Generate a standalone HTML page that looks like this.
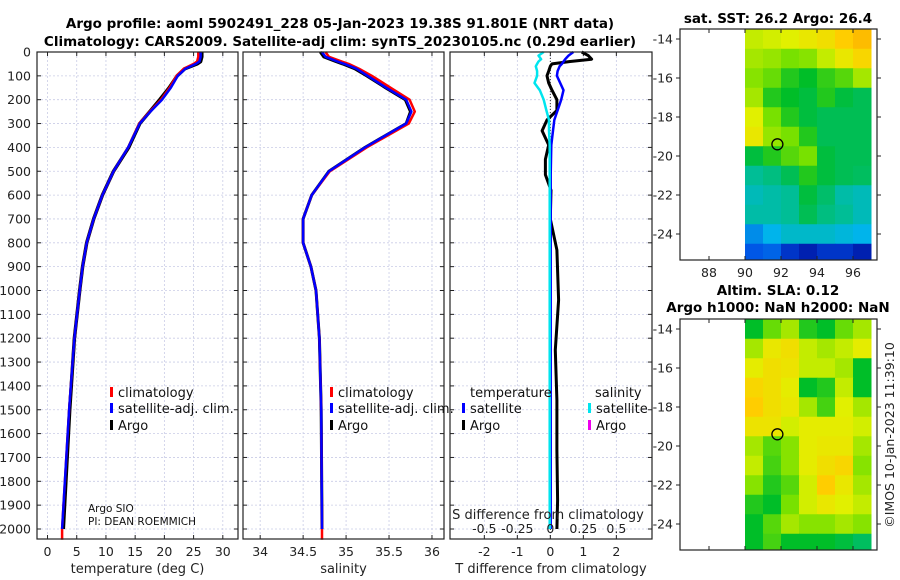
<!DOCTYPE html>
<html><head><meta charset="utf-8"><style>
html,body{margin:0;padding:0;background:#fff;}
svg{display:block;font-family:"DejaVu Sans","Liberation Sans",sans-serif;}
</style></head><body>
<svg id="fig" width="900" height="580" viewBox="0 0 900 580" xmlns="http://www.w3.org/2000/svg">
<text x="340" y="28" text-anchor="middle" font-size="13.5" font-weight="bold">Argo profile: aoml 5902491_228 05-Jan-2023 19.38S 91.801E (NRT data)</text>
<text x="340" y="46" text-anchor="middle" font-size="13.5" font-weight="bold">Climatology: CARS2009. Satellite-adj clim: synTS_20230105.nc (0.29d earlier)</text>
<text x="778" y="23" text-anchor="middle" font-size="13.5" font-weight="bold">sat. SST: 26.2 Argo: 26.4</text>
<text x="778" y="295" text-anchor="middle" font-size="13.5" font-weight="bold">Altim. SLA: 0.12</text>
<text x="778" y="312" text-anchor="middle" font-size="13.5" font-weight="bold">Argo h1000: NaN h2000: NaN</text>
<text x="0" y="0" transform="translate(894,435) rotate(-90)" text-anchor="middle" font-size="12.5" fill="#222">©IMOS 10-Jan-2023 11:39:10</text>
</svg>
<script>
// ---- profile data ----
const depths    = [0,20,40,50,70,100,150,200,250,300,400,500,600,700,800,900,1000,1200,1500,2000];
const tempArgo  = [26.4,26.4,26.2,25.6,23.5,22.2,20.8,19.2,17.5,15.8,13.9,11.3,9.4,7.9,6.7,6.0,5.5,4.6,3.8,2.7];
const tempClim  = [25.8,25.8,25.6,25.0,23.3,22.1,20.9,19.4,17.5,15.7,13.8,11.3,9.4,7.9,6.7,6.0,5.5,4.6,3.7,2.5];
const tempSat   = [26.2,26.2,26.0,25.4,23.6,22.3,21.1,19.6,17.6,15.8,13.8,11.3,9.4,7.9,6.7,6.0,5.5,4.6,3.7,2.5];
const salClim   = [34.76,34.80,34.95,35.03,35.15,35.30,35.52,35.74,35.80,35.73,35.24,34.81,34.60,34.50,34.50,34.59,34.65,34.69,34.71,34.72];
const salSat    = [34.72,34.76,34.90,34.98,35.12,35.25,35.47,35.70,35.76,35.70,35.22,34.80,34.60,34.50,34.50,34.59,34.65,34.69,34.71,34.72];
const salArgo   = [34.70,34.74,34.88,34.96,35.10,35.24,35.46,35.69,35.75,35.70,35.22,34.80,34.60,34.50,34.50,34.59,34.65,34.69,34.71,34.72];
const dDepths   = [0,15,30,40,50,60,80,100,130,160,200,245,285,330,390,450,515,580,700,830,1040,1250,1460,1670,1880,2000];
const tDiffSat  = [0.70,0.55,0.45,0.40,0.35,0.28,0.22,0.20,0.30,0.40,0.33,0.22,0.12,0.08,0.03,0.02,0.01,0.01,0.01,0.01,0.01,0.01,0.01,0.01,0.01,0.01];
const tDiffArgo = [0.95,1.15,1.25,0.60,0.05,0.00,-0.05,-0.10,-0.05,0.05,0.20,0.20,-0.10,-0.25,-0.05,-0.15,-0.15,0.02,0.00,0.20,0.25,0.15,0.20,0.20,0.22,0.20];
const sDiffSat  = [-0.05,-0.09,-0.07,-0.09,-0.10,-0.11,-0.10,-0.10,-0.12,-0.08,-0.05,-0.03,-0.01,-0.01,-0.005,-0.005,-0.005,-0.005,-0.005,-0.005,-0.005,-0.005,-0.005,-0.005,-0.005,-0.005];
const depthTicks = [0,100,200,300,400,500,600,700,800,900,1000,1100,1200,1300,1400,1500,1600,1700,1800,1900,2000];
const tempTicks = [0,5,10,15,20,25,30];
const salTicks  = [34,34.5,35,35.5,36];
const tdTicks   = [-2,-1,0,1,2];
const sdTicks   = [-0.5,-0.25,0,0.25,0.5];
// ---- map data (colormap index 0..1), rows lat -14..-25, cols lon 90.5..96.5 ----
const mapLons = [90.5,91.5,92.5,93.5,94.5,95.5,96.5];
const mapLats = [-14,-15,-16,-17,-18,-19,-20,-21,-22,-23,-24,-25];
const sstGrid = [
[0.62,0.63,0.64,0.66,0.68,0.72,0.76],
[0.60,0.59,0.57,0.58,0.62,0.66,0.70],
[0.58,0.56,0.52,0.50,0.53,0.55,0.60],
[0.60,0.52,0.50,0.48,0.52,0.48,0.46],
[0.64,0.57,0.52,0.48,0.46,0.46,0.46],
[0.66,0.59,0.57,0.52,0.46,0.46,0.46],
[0.48,0.52,0.55,0.57,0.48,0.46,0.46],
[0.40,0.42,0.46,0.52,0.48,0.46,0.45],
[0.36,0.38,0.40,0.48,0.44,0.38,0.36],
[0.38,0.38,0.40,0.46,0.42,0.40,0.36],
[0.24,0.30,0.34,0.34,0.34,0.32,0.30],
[0.16,0.18,0.10,0.06,0.10,0.10,0.06]];
const slaGrid = [
[0.50,0.56,0.60,0.52,0.50,0.56,0.60],
[0.60,0.66,0.68,0.62,0.60,0.62,0.65],
[0.65,0.68,0.67,0.62,0.62,0.60,0.50],
[0.70,0.68,0.65,0.50,0.52,0.62,0.50],
[0.72,0.68,0.66,0.60,0.54,0.64,0.60],
[0.67,0.67,0.63,0.65,0.65,0.65,0.63],
[0.60,0.55,0.58,0.65,0.66,0.66,0.60],
[0.62,0.54,0.58,0.65,0.68,0.70,0.58],
[0.58,0.52,0.55,0.63,0.72,0.66,0.60],
[0.52,0.50,0.57,0.63,0.66,0.64,0.62],
[0.50,0.55,0.60,0.58,0.58,0.60,0.58],
[0.50,0.54,0.50,0.50,0.50,0.48,0.45]];
const floatLon = 91.8, floatLat = -19.4;
const lonTicks = [88,90,92,94,96];
const latTicks = [-14,-16,-18,-20,-22,-24];

const NS='http://www.w3.org/2000/svg';
const svg=document.getElementById('fig');
function el(tag,attrs,parent){const e=document.createElementNS(NS,tag);for(const k in attrs)e.setAttribute(k,attrs[k]);(parent||svg).appendChild(e);return e;}
function txt(s,attrs,parent){const e=el('text',attrs,parent);e.textContent=s;return e;}

const PT=52, PB=539;
const yD=d=>52+d*0.2385;
const panels=[
 {x0:37,x1:238,v0:-1.8,v1:32.6,name:'temperature'},
 {x0:243,x1:444,v0:33.8,v1:36.14,name:'salinity'},
 {x0:450,x1:652,v0:-3.04,v1:3.08,name:'difference'}];
function sx(p,v){return p.x0+(v-p.v0)/(p.v1-p.v0)*(p.x1-p.x0);}

panels.forEach((p,i)=>{
  const g=el('g',{});
  
  
  depthTicks.forEach(d=>{
    const l=el('line',{x1:p.x0,x2:p.x1,y1:yD(d),y2:yD(d),stroke:'#c9cce6','stroke-width':0.8,'stroke-dasharray':'2,2'},g);
    
    
    el('line',{x1:p.x0,x2:p.x0+4,y1:yD(d),y2:yD(d),stroke:'#222'},g);
    el('line',{x1:p.x1-4,x2:p.x1,y1:yD(d),y2:yD(d),stroke:'#222'},g);
  });
  const ticks=i==0?tempTicks:i==1?salTicks:tdTicks;
  ticks.forEach(t=>{
    const x=sx(p,t);
    el('line',{x1:x,x2:x,y1:PT,y2:PB,stroke:'#c9cce6','stroke-width':0.8,'stroke-dasharray':'2,2'},g);
    el('line',{x1:x,x2:x,y1:PB-4,y2:PB,stroke:'#222'},g);
    el('line',{x1:x,x2:x,y1:PT,y2:PT+4,stroke:'#222'},g);
    const tl=txt(String(t),{x:x,y:556,'text-anchor':'middle','font-size':12.5,fill:'#222'},g);
    
    
  });
});
depthTicks.forEach(d=>{
  const t=txt(String(d),{x:31,y:yD(d)+4.5,'text-anchor':'end','font-size':12.5,fill:'#222'});
  
  
});
function line(p,vals,ds,color,w,name,scale){
  const pts=vals.map((v,k)=>sx(p,v*(scale||1)).toFixed(1)+','+yD(ds[k]).toFixed(1)).join(' ');
  const e=el('polyline',{points:pts,fill:'none',stroke:color,'stroke-width':w,'stroke-linejoin':'round'});
  
  
  return e;
}
const P1=panels[0],P2=panels[1],P3=panels[2];
line(P1,tempArgo,depths,'#000',3.5,'temp-argo-line');
line(P1,tempClim.concat([tempClim[tempClim.length-1]]),depths.concat([2045]),'#f00',2.5,'temp-climatology-line');
line(P1,tempSat,depths,'#0000ff',2.5,'temp-satellite-line');
line(P2,salArgo,depths,'#000',3,'sal-argo-line');
line(P2,salClim.concat([salClim[salClim.length-1]]),depths.concat([2045]),'#f00',2.5,'sal-climatology-line');
line(P2,salSat,depths,'#0000ff',2.5,'sal-satellite-line');
el('line',{x1:sx(P3,0),x2:sx(P3,0),y1:PT,y2:PB,stroke:'#333','stroke-dasharray':'1,2'});
line(P3,tDiffArgo,dDepths,'#000',3,'tdiff-argo-line');
line(P3,tDiffSat,dDepths,'#0000ff',2.5,'tdiff-satellite-line');
line(P3,sDiffSat,dDepths,'#00e5ee',2.5,'sdiff-satellite-line',4);
sdTicks.forEach((t,k)=>{
  const e=txt(String(t),{x:sx(P3,tdTicks[k]),y:533,'text-anchor':'middle','font-size':12.5,fill:'#222'});
  
  
});
panels.forEach(p=>{const r=el('rect',{x:p.x0,y:PT,width:p.x1-p.x0,height:PB-PT,fill:'none',stroke:'#222','stroke-width':1.2});
  });
[[P1,'temperature (deg C)'],[P2,'salinity'],[P3,'T difference from climatology']].forEach(([p,s])=>{
  const e=txt(s,{x:(p.x0+p.x1)/2,y:573,'text-anchor':'middle','font-size':13,fill:'#222'});
  });
{const e=txt('S difference from climatology',{x:548,y:519,'text-anchor':'middle','font-size':13,fill:'#222'});
 }
function leg(x,y,color,label){
  const g=el('g',{});
  
  
  el('rect',{x:x,y:y-10,width:3,height:10,fill:color},g);
  txt(label,{x:x+8,y:y,'font-size':13,fill:'#111'},g);
}
[[P1,110],[P2,330]].forEach(([p,x])=>{
  leg(x,397,'#f00','climatology');leg(x,413,'#0000ff','satellite-adj. clim.');leg(x,430,'#000','Argo');
});
{const e=txt('temperature',{x:470,y:397,'font-size':13,fill:'#111'});}
{const e=txt('salinity',{x:595,y:397,'font-size':13,fill:'#111'});}
leg(462,413,'#0000ff','satellite');leg(462,430,'#000','Argo');
leg(588,413,'#00e5ee','satellite');leg(588,430,'#ee00ee','Argo');
{const e=txt('Argo SIO',{x:88,y:512,'font-size':10.5,fill:'#111'});}
{const e=txt('PI: DEAN ROEMMICH',{x:88,y:525,'font-size':10.5,fill:'#111'});}

// ---- maps ----
const cStops=[[0,[0,0,140]],[0.15,[0,80,230]],[0.3,[0,180,235]],[0.4,[0,190,150]],[0.5,[0,190,40]],[0.57,[120,225,0]],[0.64,[225,240,0]],[0.72,[255,205,0]],[0.85,[250,150,0]],[1,[220,60,0]]];
function cmap(v){
  v=Math.max(0,Math.min(1,v));
  for(let k=1;k<cStops.length;k++){
    if(v<=cStops[k][0]){
      const [a,ca]=cStops[k-1],[b,cb]=cStops[k];const f=(v-a)/(b-a);
      return 'rgb('+ca.map((c,j)=>Math.round(c+(cb[j]-c)*f)).join(',')+')';
    }
  }
  return 'rgb(220,60,0)';
}
function drawMap(top,grid,name,showLonLabels){
  const x0=680,x1=877,y0=top,y1=top+231;
  const mx=lon=>745+(lon-90)*18.0;
  const my=lat=>top+10+(-14-lat)*19.5;
  const g=el('g',{});
  
  
  grid.forEach((row,ri)=>row.forEach((v,ci)=>{
    const lon=mapLons[ci],lat=mapLats[ri];
    const xa=Math.max(mx(lon-0.5),x0),xb=Math.min(mx(lon+0.5),x1);
    const ya=Math.max(my(lat+0.5),y0),yb=Math.min(my(lat-0.5),y1);
    const c=el('rect',{x:xa,y:ya,width:xb-xa+0.5,height:yb-ya+0.5,fill:cmap(v)},g);
    
    
  }));
  const f=el('circle',{cx:mx(floatLon),cy:my(floatLat),r:5.5,fill:'none',stroke:'#000','stroke-width':1.3},g);
  
  
  el('rect',{x:x0,y:y0,width:x1-x0,height:y1-y0,fill:'none',stroke:'#222','stroke-width':1.2},g);
  lonTicks.forEach(t=>{
    el('line',{x1:mx(t),x2:mx(t),y1:y1-4,y2:y1,stroke:'#222'},g);
    el('line',{x1:mx(t),x2:mx(t),y1:y0,y2:y0+4,stroke:'#222'},g);
    if(showLonLabels){const e=txt(String(t),{x:mx(t),y:y1+17,'text-anchor':'middle','font-size':12.5,fill:'#222'},g);
      }
  });
  latTicks.forEach(t=>{
    el('line',{x1:x0,x2:x0-4,y1:my(t),y2:my(t),stroke:'#222'},g);
    el('line',{x1:x1,x2:x1+4,y1:my(t),y2:my(t),stroke:'#222'},g);
    const e=txt(String(t),{x:673,y:my(t)+4.5,'text-anchor':'end','font-size':12.5,fill:'#222'},g);
    
  });
}
drawMap(29,sstGrid,'sst-map',true);
drawMap(319,slaGrid,'sla-map',false);
</script>
</body></html>
